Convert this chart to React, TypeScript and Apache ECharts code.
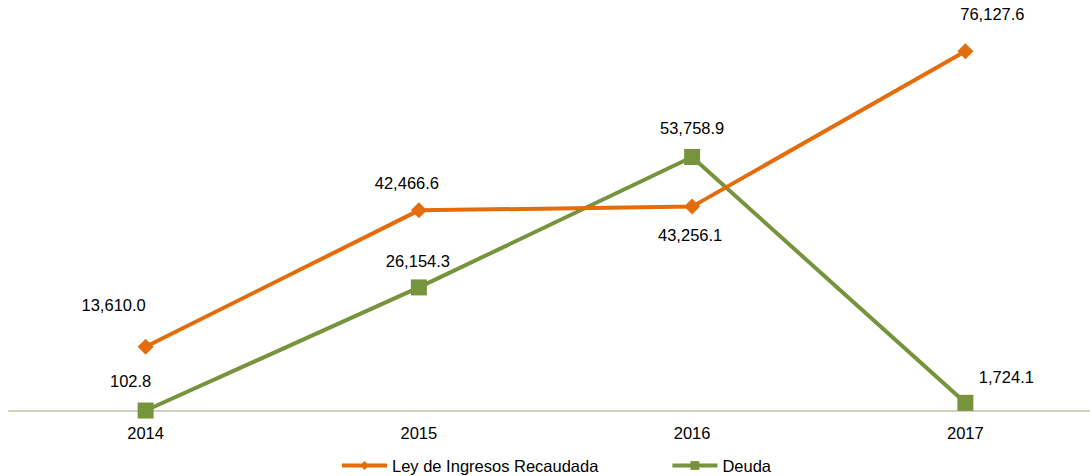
import React, { useEffect, useRef } from "react";
import * as echarts from "echarts";

const categories = ["2014", "2015", "2016", "2017"];
const leyIngresos = [13610.0, 42466.6, 43256.1, 76127.6];
const deuda = [102.8, 26154.3, 53758.9, 1724.1];
const seriesNames = ["Ley de Ingresos Recaudada", "Deuda"];

const leyOffsets: [number, number][] = [[-32, -42], [-12, -27], [-2, 28], [27, -37]];
const deudaOffsets: [number, number][] = [[-15, -30], [-1, -26], [0, -29], [41, -26]];

const fmt = (v: number) =>
  v.toLocaleString("en-US", { minimumFractionDigits: 1, maximumFractionDigits: 1 });

export default function App() {
  const ref = useRef<HTMLDivElement>(null);
  useEffect(() => {
    document.body.style.margin = "0";
    const chart = echarts.init(ref.current!, undefined, { renderer: "svg" });
    const font = "'Liberation Sans', Arial, sans-serif";
    const fs = 16.5;
    const mk = (vals: number[], offs: [number, number][]) =>
      vals.map((v, i) => ({ value: v, label: { offset: offs[i] } }));
    chart.setOption({
      animation: false,
      textStyle: { fontFamily: font },
      grid: { left: 9, top: 33, right: -12, height: 378, outerBoundsMode: "none", containLabel: false },
      legend: {
        left: 335,
        top: 452,
        itemWidth: 45,
        itemHeight: 11,
        itemGap: 72,
        lineStyle: { width: 4 },
        textStyle: { fontSize: fs, color: "#000", fontFamily: font },
        data: seriesNames,
      },
      xAxis: {
        type: "category",
        data: categories,
        boundaryGap: true,
        axisLine: { lineStyle: { color: "#d0d1bf", width: 2 } },
        axisTick: { show: false },
        axisLabel: { fontSize: fs, color: "#000", margin: 13, fontFamily: font },
      },
      yAxis: {
        type: "value",
        min: 0,
        max: 80000,
        show: false,
        splitLine: { show: false },
      },
      series: [
        {
          name: seriesNames[0],
          type: "line",
          data: mk(leyIngresos, leyOffsets),
          symbol: "diamond",
          symbolSize: 16,
          itemStyle: { color: "#e46c0a" },
          lineStyle: { color: "#e46c0a", width: 4 },
          label: {
            show: true,
            position: "inside",
            fontSize: fs,
            color: "#000",
            fontFamily: font,
            formatter: (p: any) => fmt(p.value),
          },
          z: 3,
        },
        {
          name: seriesNames[1],
          type: "line",
          data: mk(deuda, deudaOffsets),
          symbol: "rect",
          symbolSize: 16,
          itemStyle: { color: "#77933c" },
          lineStyle: { color: "#77933c", width: 4 },
          label: {
            show: true,
            position: "inside",
            fontSize: fs,
            color: "#000",
            fontFamily: font,
            formatter: (p: any) => fmt(p.value),
          },
          z: 2,
        },
      ],
    });
    return () => chart.dispose();
  }, []);
  return <div ref={ref} style={{ width: 1090, height: 476 }} />;
}
